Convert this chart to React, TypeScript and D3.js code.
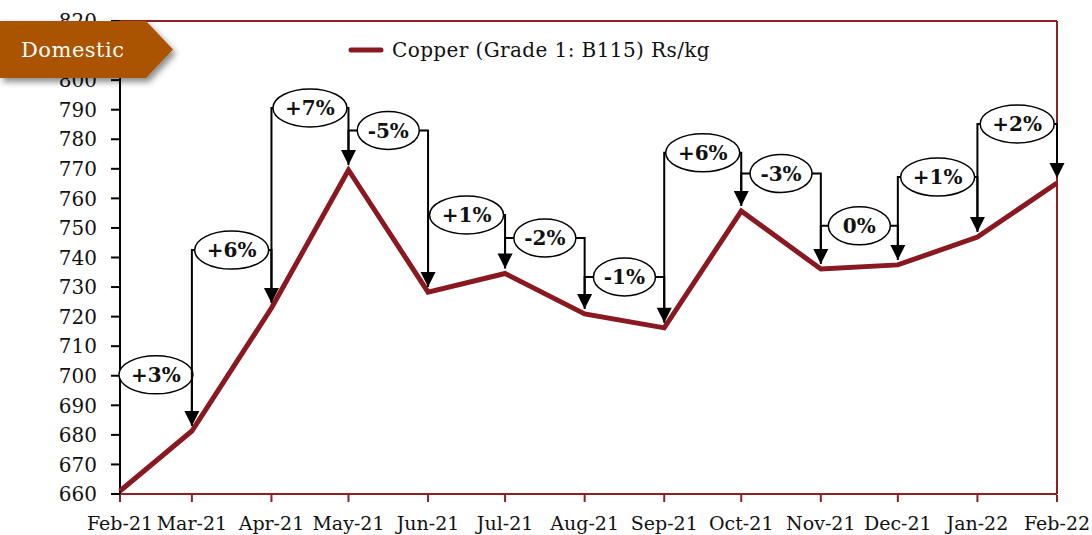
import * as d3 from "d3";

// monthly copper price, Rs/kg
const months = [
  "2021-02", "2021-03", "2021-04", "2021-05", "2021-06", "2021-07", "2021-08",
  "2021-09", "2021-10", "2021-11", "2021-12", "2022-01", "2022-02",
];
const prices = [661, 681.3, 722.9, 769.6, 728.3, 734.6, 720.9, 716.2, 755.7, 736.1, 737.5, 746.9, 765.2];

// month-on-month change callouts and the level (Rs/kg) where each bubble sits
const changeLabels = ["+3%", "+6%", "+7%", "-5%", "+1%", "-2%", "-1%", "+6%", "-3%", "0%", "+1%", "+2%"];
const labelLevels = [700.3, 742.5, 790.6, 783, 754.4, 746.6, 733.4, 775.4, 768.4, 750.7, 767.2, 785.2];

const yTicks = d3.range(660, 821, 10);

const W = 1092;
const H = 535;
const margin = { top: 21, right: 35, bottom: 41, left: 120 };
const LINE = "#8A1820";
const FRAME = "#8E1F24";
const serif = "'DejaVu Serif', serif";

export default function App() {
  const parse = d3.timeParse("%Y-%m");
  const dates = months.map((m) => parse(m) as Date);
  const fmt = d3.timeFormat("%b-%y");

  const x = d3
    .scaleTime()
    .domain([dates[0], dates[dates.length - 1]])
    .range([margin.left, W - margin.right]);
  const y = d3.scaleLinear().domain([660, 820]).range([H - margin.bottom, margin.top]);

  const line = d3
    .line<number>()
    .x((_, i) => x(dates[i]))
    .y((d) => y(d));

  const x0 = margin.left;
  const x1 = W - margin.right;
  const y0 = H - margin.bottom;
  const y1 = margin.top;

  const gap = 5;
  const head = 15;

  return (
    <svg
      width={W}
      height={H}
      style={{ position: "absolute", left: 0, top: 0, background: "#fff" }}
      fontFamily={serif}
    >
      <defs>
        <filter id="shadow" x="-20%" y="-20%" width="150%" height="160%">
          <feDropShadow dx="3" dy="4" stdDeviation="3" floodColor="#000" floodOpacity="0.45" />
        </filter>
      </defs>

      {/* frame */}
      <line x1={x0} x2={x1} y1={y1} y2={y1} stroke={FRAME} strokeWidth={2} />
      <line x1={x1} x2={x1} y1={y1} y2={y0} stroke={FRAME} strokeWidth={2} />
      <line x1={x0} x2={x1} y1={y0} y2={y0} stroke={FRAME} strokeWidth={2} />

      {/* x axis ticks + labels */}
      {dates.map((d, i) => (
        <g key={i}>
          <line x1={x(d)} x2={x(d)} y1={y0 + 1} y2={y0 + 8} stroke={FRAME} strokeWidth={2} />
          <text x={x(d)} y={530} textAnchor="middle" fontSize={19} fill="#111">
            {fmt(d)}
          </text>
        </g>
      ))}

      {/* y axis */}
      <line x1={x0} x2={x0} y1={y0} y2={y1} stroke="#000" strokeWidth={2} />
      {yTicks.map((t) => (
        <g key={t}>
          <line x1={x0 - 9} x2={x0} y1={y(t)} y2={y(t)} stroke="#000" strokeWidth={2} />
          <text x={97} y={y(t)} dy="0.36em" textAnchor="end" fontSize={20} fill="#111">
            {t}
          </text>
        </g>
      ))}

      {/* price line */}
      <path d={line(prices) || ""} fill="none" stroke={LINE} strokeWidth={5} strokeLinejoin="miter" />

      {/* change callouts */}
      {changeLabels.map((lab, i) => {
        const xa = x(dates[i]);
        const xb = x(dates[i + 1]);
        const L = y(labelLevels[i]);
        const ya = y(prices[i]) - gap;
        const tip = y(prices[i + 1]) - gap;
        const cx = (xa + xb) / 2;
        const rx = lab.startsWith("+") ? 37 : 31;
        return (
          <g key={i}>
            <path
              d={`M${xa},${ya}V${L}H${xb}V${tip - head + 1}`}
              fill="none"
              stroke="#000"
              strokeWidth={2}
            />
            <path d={`M${xb - 7.5},${tip - head}L${xb + 7.5},${tip - head}L${xb},${tip}Z`} fill="#000" />
            <ellipse cx={cx} cy={L} rx={rx} ry={19} fill="#fff" stroke="#000" strokeWidth={1.5} />
            <text
              x={cx}
              y={L}
              dy="0.36em"
              textAnchor="middle"
              fontSize={20}
              fontWeight="bold"
              fill="#111"
            >
              {lab}
            </text>
          </g>
        );
      })}

      {/* legend */}
      <line x1={351} x2={381} y1={50} y2={50} stroke={LINE} strokeWidth={5} strokeLinecap="round" />
      <text x={392} y={57} fontSize={20} fill="#111" letterSpacing={0.4}>
        Copper (Grade 1: B115) Rs/kg
      </text>

      {/* section badge */}
      <path d="M0,21H146L173,49.5L146,78H0Z" fill="#AA5204" filter="url(#shadow)" />
      <text x={21} y={57} fontSize={21} fill="#fff" letterSpacing={0.5}>
        Domestic
      </text>
    </svg>
  );
}
